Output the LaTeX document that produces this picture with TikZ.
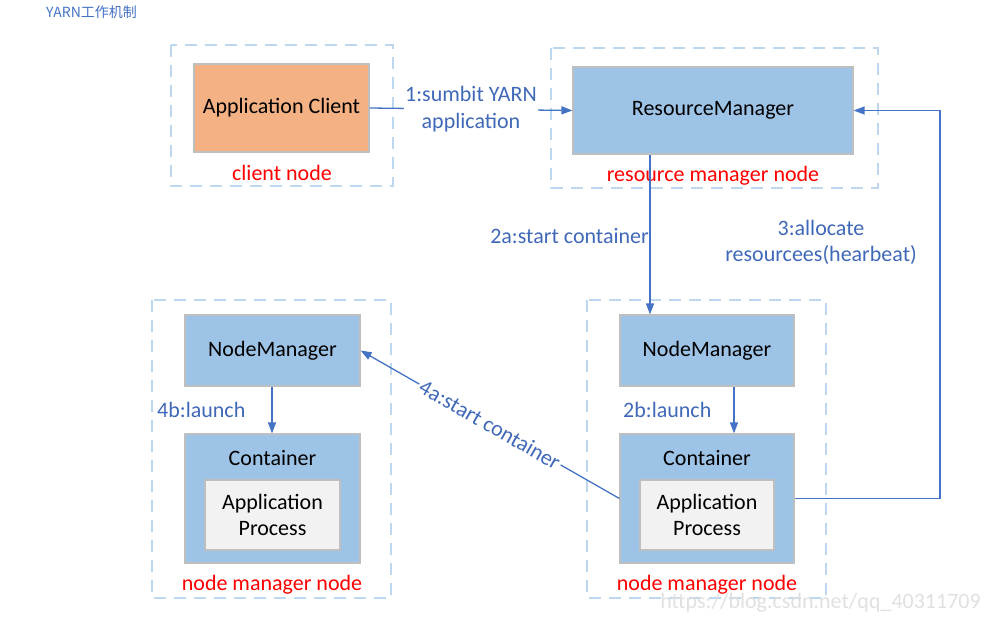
\documentclass[tikz,border=0pt]{standalone}
\usepackage{fontspec}
\setmainfont{Carlito}
\newfontfamily\cjk{Noto Sans CJK SC}
\usetikzlibrary{arrows.meta,calc}
\definecolor{boxblue}{HTML}{9DC3E6}
\definecolor{boxorange}{HTML}{F4B183}
\definecolor{apgray}{HTML}{F2F2F2}
\definecolor{bordergray}{HTML}{BFBFBF}
\definecolor{dashblue}{HTML}{BDD7EE}
\definecolor{linkblue}{HTML}{4472C4}
\definecolor{labelblue}{HTML}{4068B8}
\tikzset{
  bigtext/.style={font=\fontsize{22}{26.5}\selectfont},
  hostbox/.style={draw=dashblue, line width=1.5pt, dash pattern=on 12pt off 8pt},
  procbox/.style={draw=bordergray, line width=1.2pt, fill=boxblue, bigtext, inner sep=0pt},
  clientbox/.style={draw=bordergray, line width=1.2pt, fill=boxorange, bigtext, inner sep=0pt},
  appbox/.style={draw=bordergray, line width=1.2pt, fill=apgray, bigtext, inner sep=0pt, align=center},
  hostlabel/.style={text=red, bigtext, inner sep=0pt},
  steplabel/.style={text=labelblue, bigtext, align=center, inner sep=1pt},
  link/.style={draw=linkblue, line width=1.3pt, -{Triangle[length=11pt,width=8pt]}},
}
\begin{document}
\begin{tikzpicture}[x=1pt,y=-1pt]
\useasboundingbox (0,0) rectangle (989,624);

% title
\node[text=linkblue, font=\cjk\fontsize{14}{16}\selectfont, anchor=west, inner sep=0pt] (title) at (46,12) {YARN工作机制};

% host boxes
\draw[hostbox] (171,45) rectangle (393,186);
\draw[hostbox] (551,48) rectangle (878,188);
\draw[hostbox] (152,300) rectangle (391,598);
\draw[hostbox] (587,300) rectangle (826,598);

% client node
\node[clientbox, minimum width=175pt, minimum height=88pt] (client) at (281.5,108) {Application Client};
\node[hostlabel] (clientlbl) at (282,173) {client node};

% resource manager node
\node[procbox, minimum width=280pt, minimum height=87pt] (rm) at (713,110.5) {ResourceManager};
\node[hostlabel] (rmlbl) at (713,176) {resource manager node};

% left node manager node
\node[procbox, minimum width=175pt, minimum height=71pt] (nmL) at (272.5,350.5) {NodeManager};
\node[procbox, minimum width=175pt, minimum height=129pt] (contL) at (272.5,498.5) {};
\node[bigtext, inner sep=0pt] (contLt) at (272.5,458) {Container};
\node[appbox, minimum width=135pt, minimum height=70pt] (apL) at (272.5,515) {Application\\Process};
\node[hostlabel] (nmLlbl) at (272,585) {node manager node};

% right node manager node
\node[procbox, minimum width=174pt, minimum height=71pt] (nmR) at (707,350.5) {NodeManager};
\node[procbox, minimum width=174pt, minimum height=129pt] (contR) at (707,498.5) {};
\node[bigtext, inner sep=0pt] (contRt) at (707,458) {Container};
\node[appbox, minimum width=134pt, minimum height=70pt] (apR) at (707,515) {Application\\Process};
\node[hostlabel] (nmRlbl) at (707,585) {node manager node};

% helper coordinates
\coordinate (x2a) at (650,0);
\coordinate (x2b) at (734,0);
\coordinate (x4b) at (272,0);
\coordinate (x3) at (940,0);

% connectors
\draw[link] (client.east) -- node[steplabel, fill=white] (l1) {1:sumbit YARN\\application} (rm.west);
\draw[link] (rm.south -| x2a) -- (nmR.north -| x2a);
\draw[link] (nmR.south -| x2b) -- (contR.north -| x2b);
\draw[link] (nmL.south -| x4b) -- (contL.north -| x4b);
\draw[link] (contR.east) -| (x3 |- rm.east) -- (rm.east);
\draw[link] (contR.west) -- node[steplabel, fill=white, sloped, inner sep=2pt] (l4a) {4a:start container} (nmL.east);

% step labels
\node[steplabel, anchor=east] (l2a) at (650,236) {2a:start container};
\node[steplabel] (l3) at (821,242.5) {3:allocate\\resourcees(hearbeat)};
\node[steplabel, anchor=west] (l2b) at (622,410) {2b:launch};
\node[steplabel, anchor=west] (l4b) at (156,410) {4b:launch};

% watermark
\node[text=black!12, bigtext, anchor=east, inner sep=0pt] (wm) at (981,603) {https://blog.csdn.net/qq\_40311709};
\end{tikzpicture}
\end{document}
